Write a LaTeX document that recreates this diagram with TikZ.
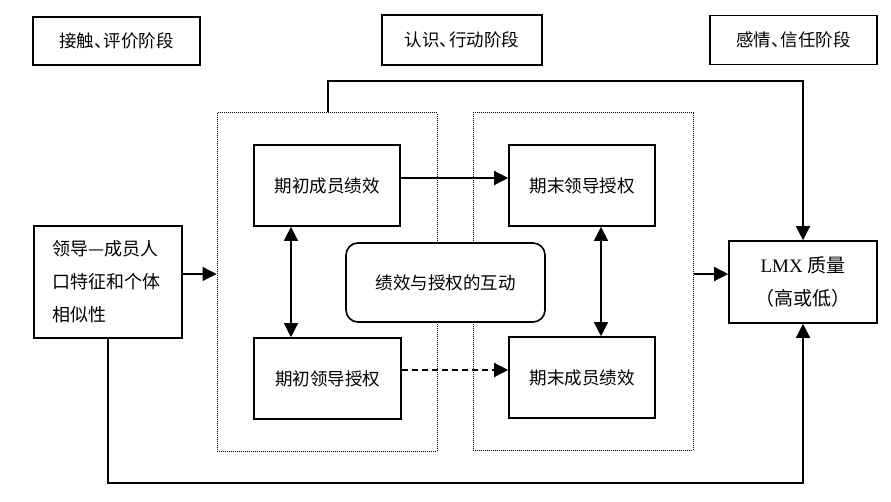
\documentclass[tikz,border=0pt]{standalone}
\usepackage{fontspec}
\setmainfont{Liberation Serif}
\newfontfamily\cjk{Noto Sans CJK SC}
\usetikzlibrary{arrows.meta}

\begin{document}
\begin{tikzpicture}[x=1pt,y=-1pt,
	boite/.style={draw,line width=1.6pt,inner sep=0pt,fill=white,font=\cjk\fontsize{17.5}{20}\selectfont},
	groupe/.style={draw,densely dotted,line width=1pt,inner sep=0pt},
	fleche/.style={line width=1.3pt,-{Triangle[length=14pt,width=14pt]}},
	dfleche/.style={line width=1.3pt,{Triangle[length=14pt,width=14pt]}-{Triangle[length=14pt,width=14pt]}}]

\useasboundingbox (0,0) rectangle (891,502);

% les trois phases
\node[boite,minimum width=167pt,minimum height=48pt] (phase1) at (116.5,41) {接触、\kern-0.45em 评价阶段};
\node[boite,minimum width=160pt,minimum height=50pt] (phase2) at (462,40) {认识、\kern-0.45em 行动阶段};
\node[boite,minimum width=167pt,minimum height=49pt] (phase3) at (793.5,40) {感情、\kern-0.45em 信任阶段};

% cadres pointilles
\node[groupe,minimum width=220pt,minimum height=338pt] (debut) at (327,282) {};
\node[groupe,minimum width=220pt,minimum height=337pt] (fin) at (583,281.5) {};

\node[boite,minimum width=148pt,minimum height=112pt,text width=112pt,align=left,font=\cjk\fontsize{18}{33}\selectfont] (profil) at (108,282) {领导—成员人\\口特征和个体\\相似性};

\node[boite,minimum width=146pt,minimum height=81pt] (perfdebut) at (327,185.5) {期初成员绩效};
\node[boite,minimum width=147pt,minimum height=81pt] (autodebut) at (327.5,378.5) {期初领导授权};
\node[boite,minimum width=146pt,minimum height=81pt] (autofin) at (582,185.5) {期末领导授权};
\node[boite,minimum width=146pt,minimum height=81pt] (perffin) at (582,377.5) {期末成员绩效};

\node[boite,rounded corners=12pt,minimum width=199pt,minimum height=79pt] (interaction) at (445.5,282.5) {绩效与授权的互动};

\node[boite,minimum width=148pt,minimum height=82pt,align=center,font=\fontsize{19}{33}\selectfont] (lmx) at (803,282) {LMX {\cjk 质量}\\{\cjk （高或低）}};

% fleches
\draw[fleche] (profil.east |- 0,274) -- (debut.west |- 0,274);
\draw[fleche] (fin.east |- 0,274) -- (lmx.west |- 0,274);
\draw[fleche] (perfdebut.east |- 0,178) -- (autofin.west |- 0,178);
\draw[fleche,dash pattern=on 6pt off 4pt] (autodebut.east |- 0,370) -- (perffin.west |- 0,370);
\draw[dfleche] (perfdebut.south -| 291,0) -- (autodebut.north -| 291,0);
\draw[dfleche] (autofin.south -| 601,0) -- (perffin.north -| 601,0);

\draw[fleche] (debut.north -| 328,0) -- (328,81) -| (lmx.north);
\draw[fleche] (profil.south) -- (108,483) -| (lmx.south);

\end{tikzpicture}
\end{document}
